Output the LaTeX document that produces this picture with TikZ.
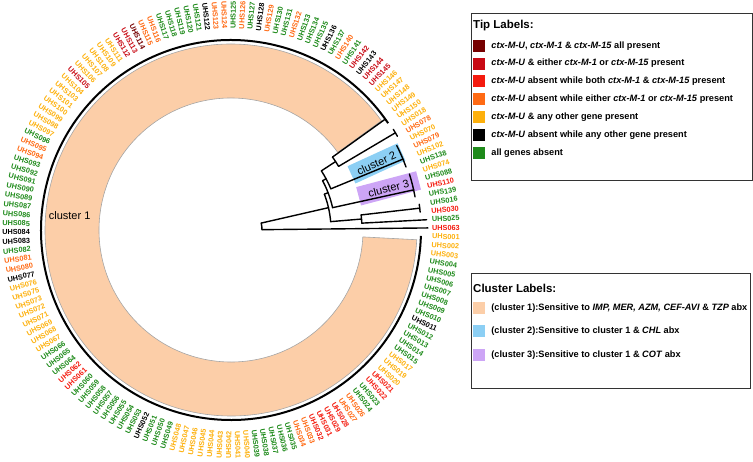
\documentclass[tikz,border=0pt]{standalone}
\usepackage{fontspec}
\setmainfont{Liberation Sans}
\usetikzlibrary{positioning,calc}

\definecolor{cMar}{HTML}{760000}
\definecolor{cCri}{HTML}{C80A14}
\definecolor{cRed}{HTML}{F41A0E}
\definecolor{cOra}{HTML}{FF6A14}
\definecolor{cAmb}{HTML}{FDB00C}
\definecolor{cBlk}{HTML}{000000}
\definecolor{cGrn}{HTML}{1E8A1A}
\definecolor{cPeach}{HTML}{FCCEA8}
\definecolor{cSky}{HTML}{8CCFF4}
\definecolor{cLilac}{HTML}{CDA5F6}

\tikzset{
  branch/.style={line width=1.4pt, line cap=round},
  tiplab/.style={font=\fontsize{7.3}{8}\selectfont\bfseries, inner sep=0pt},
  legbox/.style={draw=black!80, line width=1pt, inner sep=0pt},
  swatch/.style={minimum size=12pt, inner sep=0pt},
  legtext/.style={font=\fontsize{9.2}{10}\selectfont\bfseries, inner sep=0pt},
  legtitle/.style={font=\fontsize{11.5}{13}\selectfont\bfseries, inner sep=0pt, anchor=west},
  cladebox/.style={minimum width=#1, minimum height=19pt, inner sep=0pt,
    font=\fontsize{11}{13}\selectfont},
}

\begin{document}
\begin{tikzpicture}[x=1pt,y=1pt]
\useasboundingbox (0,0) rectangle (753,461);

\begin{scope}[shift={(231,231)}]
  % highlight of cluster 1
  \fill[cPeach, draw=black!35, line width=0.6pt] (36:132pt) arc[start angle=36, end angle=357, radius=132pt]
    -- (357:186pt) arc[start angle=357, end angle=36, radius=186pt] -- cycle;
  \node[font=\fontsize{11}{13}\selectfont] (c1lab) at (175:162pt) {cluster 1};

  % clade labels
  \node[cladebox=55pt, fill=cSky, rotate=24.6] (c2box) at (24.6:160pt) {cluster 2};
  \node[cladebox=62pt, fill=cLilac, rotate=14.8] (c3box) at (14.8:163pt) {cluster 3};

  % root
  \draw[branch] (0.6:31pt) coordinate (rt1) arc[start angle=0.6, end angle=12.9, radius=31pt] coordinate (rt2);
  \draw[branch] (rt1) -- (0.6:197pt) coordinate (t063);
  \draw[branch] (rt2) -- (12.9:100pt) coordinate (nA);
  % node A
  \draw[branch] (4.8:100pt) coordinate (nA1) arc[start angle=4.8, end angle=21, radius=100pt] coordinate (nA2);
  \draw[branch] (nA1) -- (4.8:131pt) coordinate (nB);
  % node B
  \draw[branch] (3:131pt) coordinate (nB1) arc[start angle=3, end angle=6.6, radius=131pt] coordinate (nB2);
  \draw[branch] (nB1) -- (3:196pt) coordinate (t025);
  \draw[branch] (nB2) -- (6.6:190pt) coordinate (nE);
  \draw[branch] (5.4:190pt) coordinate (nE1) arc[start angle=5.4, end angle=7.8, radius=190pt] coordinate (nE2);
  % node H
  \draw[branch] (nA2) -- (21:104pt) coordinate (nH);
  \draw[branch] (12.4:104pt) coordinate (nH1) arc[start angle=12.4, end angle=28.3, radius=104pt] coordinate (nH2);
  \draw[branch] (nH1) -- (12.4:187pt) coordinate (nC3);
  \draw[branch] (10.2:187pt) arc[start angle=10.2, end angle=17.4, radius=187pt];
  % node I
  \draw[branch] (nH2) -- (28.3:108pt) coordinate (nI);
  \draw[branch] (22.4:108pt) coordinate (nI1) arc[start angle=22.4, end angle=33.2, radius=108pt] coordinate (nI2);
  \draw[branch] (nI1) -- (22.4:186pt) coordinate (nC2);
  \draw[branch] (19.8:186pt) arc[start angle=19.8, end angle=27, radius=186pt];
  % node G
  \draw[branch] (nI2) -- (33.2:125pt) coordinate (nG);
  \draw[branch] (30.6:125pt) coordinate (nG1) arc[start angle=30.6, end angle=35.7, radius=125pt] coordinate (nG2);
  \draw[branch] (nG1) -- (30.6:191pt) coordinate (nF);
  \draw[branch] (29.4:191pt) arc[start angle=29.4, end angle=31.8, radius=191pt];
  \draw[branch] (nG2) -- (35.7:190pt) coordinate (nC1);
  \draw[line width=2pt] (34.2:190pt) arc[start angle=34.2, end angle=358.2, radius=190pt];

  % tip labels
  \foreach \lab/\col [count=\i from 0] in {
    001/Amb,002/Amb,003/Amb,004/Grn,005/Grn,006/Grn,007/Grn,008/Grn,009/Grn,010/Grn,
    011/Blk,012/Grn,013/Grn,014/Grn,015/Grn,017/Amb,019/Amb,020/Amb,021/Red,022/Red,
    023/Grn,024/Grn,026/Ora,027/Ora,028/Red,029/Red,031/Red,032/Red,033/Ora,034/Ora,
    035/Grn,036/Grn,037/Grn,038/Grn,039/Grn,040/Amb,041/Amb,042/Amb,043/Amb,044/Amb,
    045/Amb,046/Amb,047/Amb,048/Amb,049/Grn,050/Grn,051/Grn,052/Blk,053/Grn,054/Grn,
    055/Grn,056/Grn,057/Grn,058/Grn,059/Grn,060/Grn,061/Red,062/Red,064/Grn,065/Grn,
    066/Grn,067/Amb,068/Amb,069/Amb,071/Amb,072/Amb,073/Amb,075/Amb,076/Amb,077/Blk,
    080/Ora,081/Ora,082/Grn,083/Blk,084/Blk,085/Grn,086/Grn,087/Grn,089/Grn,090/Grn,
    091/Grn,092/Grn,093/Grn,094/Ora,095/Ora,096/Grn,097/Amb,098/Amb,099/Amb,100/Amb,
    101/Amb,103/Amb,104/Amb,105/Cri,106/Amb,107/Amb,108/Amb,109/Amb,111/Amb,112/Cri,
    113/Cri,114/Mar,115/Ora,116/Ora,117/Grn,118/Grn,119/Grn,120/Grn,121/Grn,122/Blk,
    123/Ora,124/Ora,125/Grn,126/Ora,127/Grn,128/Blk,129/Ora,130/Grn,131/Grn,132/Ora,
    133/Grn,134/Grn,135/Grn,136/Blk,137/Grn,140/Ora,141/Grn,142/Cri,143/Blk,144/Cri,
    145/Cri,146/Amb,147/Amb,148/Amb,149/Amb,150/Amb,018/Amb,078/Ora,070/Amb,079/Ora,
    102/Amb,138/Grn,074/Amb,088/Grn,110/Red,139/Grn,016/Grn,030/Red,025/Grn,063/Red} {
    \pgfmathsetmacro\ang{-1.8-2.4*\i}
    \pgfmathtruncatemacro\lft{and(\ang<-90,\ang>-270)}
    \ifnum\lft=1
      \pgfmathsetmacro\rot{\ang+180}
      \node[tiplab, text=c\col, anchor=east, rotate=\rot] (tip\lab) at (\ang:201pt) {UHS\lab};
    \else
      \node[tiplab, text=c\col, anchor=west, rotate=\ang] (tip\lab) at (\ang:201pt) {UHS\lab};
    \fi
  }
\end{scope}

% tip legend
\node[legbox, minimum width=281pt, minimum height=167pt, anchor=north west] (tipbox) at (471,448) {};
\node[legtitle] (tiptitle) at (473,435) {Tip Labels:};
\foreach \col/\txt [count=\i] in {
  Mar/{\textit{ctx-M-U}, \textit{ctx-M-1} \& \textit{ctx-M-15} all present},
  Cri/{\textit{ctx-M-U} \& either \textit{ctx-M-1} or \textit{ctx-M-15} present},
  Red/{\textit{ctx-M-U} absent while both \textit{ctx-M-1} \& \textit{ctx-M-15} present},
  Ora/{\textit{ctx-M-U} absent while either \textit{ctx-M-1} or \textit{ctx-M-15} present},
  Amb/{\textit{ctx-M-U} \& any other gene present},
  Blk/{\textit{ctx-M-U} absent while any other gene present},
  Grn/{all genes absent}} {
  \node[swatch, fill=c\col] (tsw\i) at (479,{433.2-17.9*\i}) {};
  \node[legtext, right=6pt of tsw\i] (tlab\i) {\txt};
}

% cluster legend
\node[legbox, minimum width=279pt, minimum height=115pt, anchor=north west] (clbox) at (471,188) {};
\node[legtitle] (cltitle) at (473,173) {Cluster Labels:};
\foreach \col/\txt [count=\i] in {
  Peach/{(cluster 1):Sensitive to \textit{IMP, MER, AZM, CEF-AVI} \& \textit{TZP} abx},
  Sky/{(cluster 2):Sensitive to cluster 1 \& \textit{CHL} abx},
  Lilac/{(cluster 3):Sensitive to cluster 1 \& \textit{COT} abx}} {
  \node[swatch, fill=c\col] (csw\i) at (479,{176.5-23.5*\i}) {};
  \node[legtext, right=6pt of csw\i] (clab\i) {\txt};
}
\end{tikzpicture}
\end{document}
